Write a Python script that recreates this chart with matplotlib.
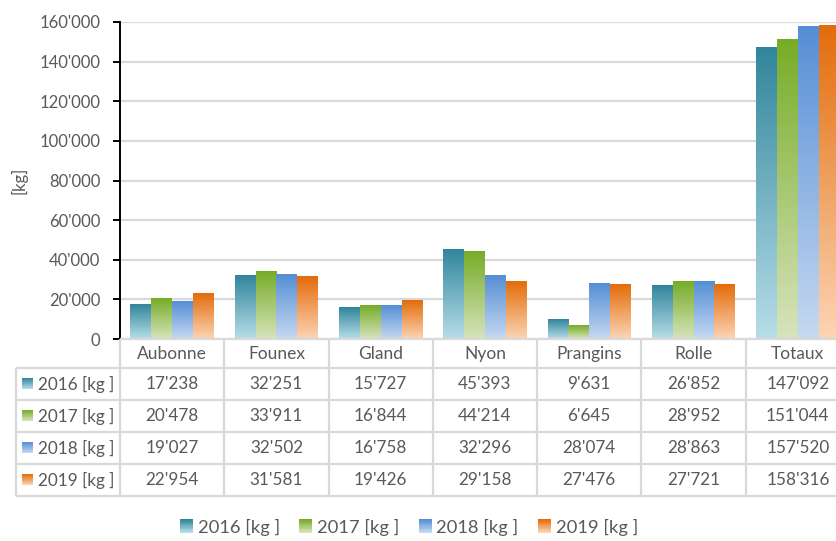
import numpy as np
import matplotlib
matplotlib.use('Agg')
import matplotlib.pyplot as plt
from matplotlib.colors import LinearSegmentedColormap, to_rgb
from matplotlib.patches import Rectangle, Patch
from matplotlib.legend_handler import HandlerBase
from matplotlib.ticker import FuncFormatter

# ── data ──────────────────────────────────────────────────────────────────────
communes = ['Aubonne', 'Founex', 'Gland', 'Nyon', 'Prangins', 'Rolle', 'Totaux']
series = ['2016 [kg ]', '2017 [kg ]', '2018 [kg ]', '2019 [kg ]']
kg_2016 = [17238, 32251, 15727, 45393, 9631, 26852, 147092]
kg_2017 = [20478, 33911, 16844, 44214, 6645, 28952, 151044]
kg_2018 = [19027, 32502, 16758, 32296, 28074, 28863, 157520]
kg_2019 = [22954, 31581, 19426, 29158, 27476, 27721, 158316]
yticks = [0, 20000, 40000, 60000, 80000, 100000, 120000, 140000, 160000]

# gradient colours (top, bottom) per series
tops = ['#31859C', '#77AC27', '#558ED5', '#E36C0A']
bottoms = ['#B7DEE8', '#D7E4BD', '#C6D9F1', '#FCD5B5']

TXT = '#595959'
GRID = '#D9D9D9'
plt.rcParams['font.family'] = ['Lato', 'DejaVu Sans']


def fmt(v):
    return f"{int(v):,}".replace(',', "'")


def cmap_for(top, bot):
    return LinearSegmentedColormap.from_list('g', [bot, top])


class GradHandler(HandlerBase):
    def __init__(self, top, bot, n=16):
        super().__init__()
        self.top, self.bot, self.n = to_rgb(top), to_rgb(bot), n

    def create_artists(self, legend, orig_handle, xdescent, ydescent,
                       width, height, fontsize, trans):
        out = []
        s = min(width, height)
        x0 = -xdescent + (width - s) / 2
        y0 = -ydescent + (height - s) / 2
        for k in range(self.n):
            t = k / (self.n - 1)
            c = [b + (a - b) * t for a, b in zip(self.top, self.bot)]
            out.append(Rectangle((x0, y0 + s * k / self.n), s, s / self.n + 0.3,
                                 facecolor=c, edgecolor='none', transform=trans))
        return out


# ── layout ────────────────────────────────────────────────────────────────────
W, H = 836, 541
fig = plt.figure(figsize=(W / 100, H / 100), dpi=100)
ax = fig.add_axes([120 / W, (H - 339) / H, 730 / W, 317 / H])
tab = fig.add_axes([120 / W, (H - 496) / H, 730 / W, 157 / H], sharex=ax)

x = np.arange(len(communes))
all_vals = [kg_2016, kg_2017, kg_2018, kg_2019]
for i, vals in enumerate(all_vals):
    rects = ax.bar(x + (i - 1.5) * 0.2, vals, width=0.2, color='none', zorder=2)
    cm_ = cmap_for(tops[i], bottoms[i])
    grad = np.linspace(0, 1, 256).reshape(-1, 1)
    for r in rects:
        ax.imshow(grad, extent=[r.get_x(), r.get_x() + r.get_width(), 0, r.get_height()],
                  origin='lower', cmap=cm_, aspect='auto', zorder=2,
                  interpolation='bilinear')

ax.set_xlim(-0.5, len(communes) - 0.5)
ax.set_ylim(0, 160000)
ax.set_yticks(yticks)
ax.yaxis.set_major_formatter(FuncFormatter(lambda v, p: fmt(v)))
ax.set_xticks([])
ax.yaxis.grid(True, color=GRID, linewidth=1.6, zorder=0)
ax.set_axisbelow(True)
for s in ['top', 'right', 'bottom']:
    ax.spines[s].set_visible(False)
ax.spines['left'].set_linewidth(1.4)
ax.spines['left'].set_color('black')
ax.tick_params(axis='y', colors='black', labelcolor=TXT, labelsize=12,
               length=5, width=1.4, pad=9)

fig.text(19 / W, 1 - 180 / H, '[kg]', rotation=90, ha='center', va='center',
         color=TXT, fontsize=12)

# ── data table ────────────────────────────────────────────────────────────────
tab.set_ylim(157, 0)
tab.axis('off')
row_edges = [0, 29, 61, 93, 125, 157]
xl, xr = -1.5, len(communes) - 0.5
lk = dict(color=GRID, linewidth=1.6, clip_on=False, solid_capstyle='butt')
tab.plot([-0.5, xr], [0, 0], **lk)
for yy in row_edges[1:]:
    tab.plot([xl, xr], [yy, yy], **lk)
tab.plot([xl, xl], [29, 157], **lk)
for k in range(len(communes) + 1):
    tab.plot([k - 0.5, k - 0.5], [0, 157], **lk)

for k, c in enumerate(communes):
    tab.text(k, 15, c, ha='center', va='center', color=TXT, fontsize=12.5)

for i, vals in enumerate(all_vals):
    yc = (row_edges[i + 1] + row_edges[i + 2]) / 2
    for k, v in enumerate(vals):
        tab.text(k, yc, fmt(v), ha='center', va='center', color=TXT, fontsize=12.3)
    grad = np.linspace(0, 1, 64).reshape(-1, 1)
    tab.imshow(grad, extent=[-1.44, -1.335, yc + 5.5, yc - 5.5], origin='lower',
               cmap=cmap_for(tops[i], bottoms[i]), aspect='auto', clip_on=False,
               interpolation='bilinear')
    tab.text(-1.29, yc, series[i], ha='left', va='center', color=TXT, fontsize=12.3)
tab.set_ylim(157, 0)
tab.set_xlim(-0.5, len(communes) - 0.5)

# ── legend ────────────────────────────────────────────────────────────────────
handles = [Patch(facecolor=t) for t in tops]
hmap = {h: GradHandler(t, b) for h, t, b in zip(handles, tops, bottoms)}
fig.legend(handles, series, handler_map=hmap, loc='center',
           bbox_to_anchor=(409 / W, 1 - 527 / H), ncol=4, frameon=False,
           handlelength=0.72, handleheight=0.72, handletextpad=0.25,
           columnspacing=1.05, fontsize=13.2, labelcolor=TXT)

fig.savefig('out.png', dpi=100)
